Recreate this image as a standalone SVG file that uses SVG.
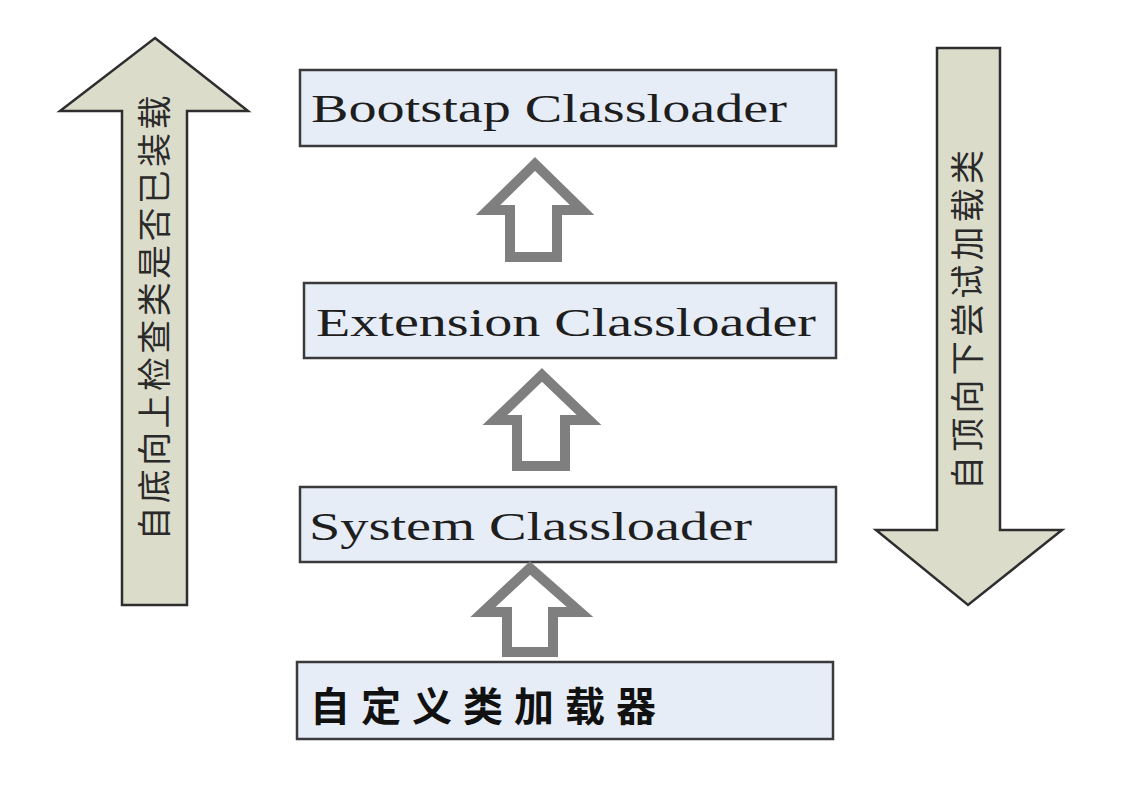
<svg xmlns="http://www.w3.org/2000/svg" width="1127" height="809" viewBox="0 0 1127 809">
<style>
.big{fill:#dcdccb;stroke:#2e2e2e;stroke-width:2.5;stroke-linejoin:miter}
.box{fill:#e7edf7;stroke:#3a3a3a;stroke-width:2.5}
.lbl{font-family:"Liberation Serif","Times New Roman",serif;font-size:40px;fill:#1e1e1e}
.vt{font-family:"Noto Sans CJK SC",sans-serif;font-size:34px;fill:#2a2a2a;text-anchor:middle}
.hol{fill:#ffffff;stroke:#7f7f7f;stroke-width:10;stroke-linejoin:miter}
</style>
<rect width="1127" height="809" fill="#ffffff"/>
<g id="left-arrow">
<polygon class="big" points="155,38 248,111 187,111 187,605 122,605 122,111 60,111"/>
<text class="vt" transform="translate(155,318) rotate(-90)" y="12" textLength="445" lengthAdjust="spacing">自底向上检查类是否已装载</text>
</g>
<g id="right-arrow">
<polygon class="big" points="937,48 1000,48 1000,530 1062,530 968,605 876,530 937,530"/>
<text class="vt" transform="translate(968,320) rotate(-90)" y="12" textLength="340" lengthAdjust="spacing">自顶向下尝试加载类</text>
</g>
<g id="bootstrap">
<rect class="box" x="300" y="70" width="536" height="76"/>
<text class="lbl" x="311" y="122" textLength="476" lengthAdjust="spacingAndGlyphs">Bootstap Classloader</text>
</g>
<g id="extension">
<rect class="box" x="304" y="283" width="532" height="75"/>
<text class="lbl" x="316" y="336" textLength="500" lengthAdjust="spacingAndGlyphs">Extension Classloader</text>
</g>
<g id="system">
<rect class="box" x="300" y="487" width="536" height="75"/>
<text class="lbl" x="309" y="540" textLength="443" lengthAdjust="spacingAndGlyphs">System Classloader</text>
</g>
<g id="custom">
<rect class="box" x="297" y="662" width="536" height="77"/>
<text x="310" y="721" font-family="Noto Sans CJK SC,sans-serif" font-size="40" font-weight="bold" fill="#111" textLength="346" lengthAdjust="spacing">自定义类加载器</text>
</g>
<g id="connectors">
<polygon class="hol" points="535,164 582,210 557,210 557,257 510,257 510,210 488,210"/>
<polygon class="hol" points="542,375 589,420 565,420 565,466 517,466 517,420 495,420"/>
<polygon class="hol" points="530,568 580,612 553,612 553,652 507,652 507,612 483,612"/>
</g>
</svg>
